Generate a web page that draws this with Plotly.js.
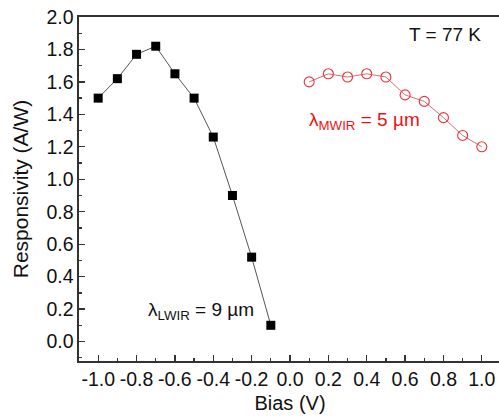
<!DOCTYPE html>
<html>
<head>
<meta charset="utf-8">
<script src="https://cdn.plot.ly/plotly-3.0.1.min.js"></script>
<style>
  html, body { margin: 0; padding: 0; overflow: hidden; background: #fff; }
  #chart { width: 503px; height: 417px; }
</style>
</head>
<body>
<div id="chart"></div>
<script>
// Bias voltage (V) and responsivity (A/W) for the two detector bands
const biasLWIR = [-1.0, -0.9, -0.8, -0.7, -0.6, -0.5, -0.4, -0.3, -0.2, -0.1];
const respLWIR = [1.50, 1.62, 1.77, 1.82, 1.65, 1.50, 1.26, 0.90, 0.52, 0.10];

const biasMWIR = [0.1, 0.2, 0.3, 0.4, 0.5, 0.6, 0.7, 0.8, 0.9, 1.0];
const respMWIR = [1.60, 1.65, 1.63, 1.65, 1.63, 1.52, 1.48, 1.38, 1.27, 1.20];

const xTicks = [-1.0, -0.8, -0.6, -0.4, -0.2, 0.0, 0.2, 0.4, 0.6, 0.8, 1.0];
const yTicks = [0.0, 0.2, 0.4, 0.6, 0.8, 1.0, 1.2, 1.4, 1.6, 1.8, 2.0];

const FONT = 'Liberation Sans, Arial, sans-serif';
const AXIS = '#333';
const INK = '#111';

const traces = [
  {
    x: biasLWIR, y: respLWIR, type: 'scatter', mode: 'lines+markers',
    line: { color: '#555', width: 1 },
    marker: { symbol: 'square', size: 9, color: '#000' },
    cliponaxis: false, hoverinfo: 'skip'
  },
  {
    x: biasMWIR, y: respMWIR, type: 'scatter', mode: 'lines+markers',
    line: { color: '#e56a6a', width: 1 },
    marker: { symbol: 'circle-open', size: 10, color: '#e8333c', line: { width: 1.1 } },
    cliponaxis: false, hoverinfo: 'skip'
  }
];

const layout = {
  width: 503, height: 417,
  margin: { l: 79, r: 2, t: 17, b: 56 },
  paper_bgcolor: '#fff', plot_bgcolor: '#fff',
  showlegend: false,
  font: { family: FONT, color: INK, size: 19 },
  xaxis: {
    range: [-1.1, 1.1], tickvals: xTicks, ticktext: xTicks.map(v => v.toFixed(1)),
    ticks: 'inside', ticklen: 6, tickwidth: 1.3, tickcolor: AXIS,
    minor: { dtick: 0.1, ticks: 'inside', ticklen: 3, tickwidth: 1.3, tickcolor: AXIS, showgrid: false },
    showline: true, linecolor: AXIS, linewidth: 1.6, mirror: true,
    showgrid: false, zeroline: false,
    tickfont: { family: FONT, size: 19.5, color: INK },
    title: { text: 'Bias (V)', font: { family: FONT, size: 20, color: INK }, standoff: 7 }
  },
  yaxis: {
    range: [-0.12, 2.0], tickvals: yTicks, ticktext: yTicks.map(v => v.toFixed(1)),
    ticks: 'inside', ticklen: 6, tickwidth: 1.3, tickcolor: AXIS,
    minor: { dtick: 0.1, ticks: 'inside', ticklen: 3, tickwidth: 1.3, tickcolor: AXIS, showgrid: false },
    showline: true, linecolor: AXIS, linewidth: 1.6, mirror: true,
    showgrid: false, zeroline: false,
    tickfont: { family: FONT, size: 19.5, color: INK },
    title: { text: 'Responsivity (A/W)', font: { family: FONT, size: 21, color: INK }, standoff: 12 }
  },
  annotations: [
    { x: 0.81, y: 1.89, xref: 'x', yref: 'y', text: 'T = 77 K', showarrow: false,
      font: { family: FONT, size: 19, color: INK } },
    { x: 0.386, y: 1.36, xref: 'x', yref: 'y', text: 'λ<sub>MWIR</sub> = 5 µm', showarrow: false,
      font: { family: FONT, size: 19, color: '#ee1111' } },
    { x: -0.463, y: 0.19, xref: 'x', yref: 'y', text: 'λ<sub>LWIR</sub> = 9 µm', showarrow: false,
      font: { family: FONT, size: 19, color: INK } }
  ]
};

Plotly.newPlot('chart', traces, layout, { staticPlot: true, displayModeBar: false });
</script>
</body>
</html>
